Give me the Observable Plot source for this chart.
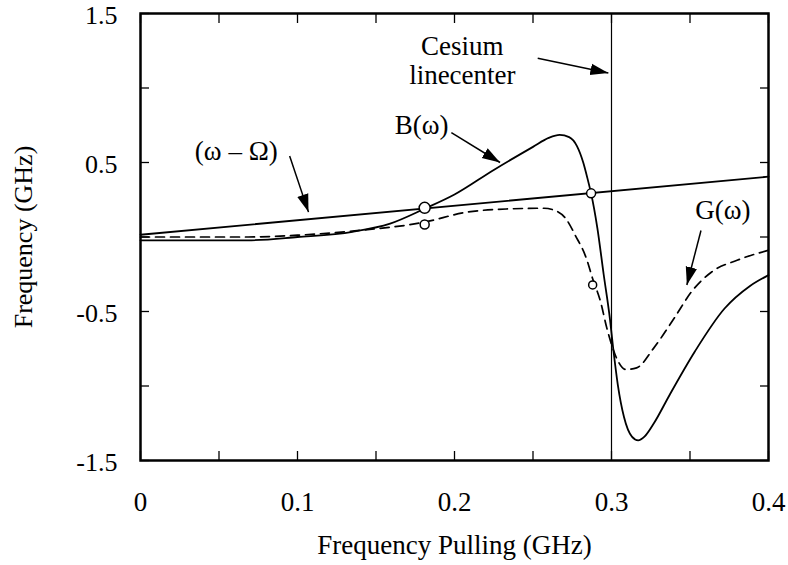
<!DOCTYPE html>
<html>
<head>
<meta charset="utf-8">
<script src="https://cdn.jsdelivr.net/npm/d3@7"></script>
<script src="https://cdn.jsdelivr.net/npm/@observablehq/plot@0.6"></script>
<style>
  html, body { margin: 0; padding: 0; background: #fff; }
</style>
</head>
<body>
<div id="chart"></div>
<script>
// ---- data ----
const lineX = [0, 0.4];
const lineY = [0.015, 0.405];               // (ω − Ω)

const bX = [0, 0.068, 0.1, 0.135, 0.159, 0.181, 0.2, 0.225, 0.25, 0.26, 0.267, 0.273, 0.278, 0.282, 0.285, 0.287, 0.291, 0.295, 0.299, 0.301, 0.304, 0.308, 0.313, 0.317, 0.321, 0.327, 0.337, 0.353, 0.372, 0.388, 0.4];
const bY = [-0.022, -0.022, 0.0, 0.035, 0.09, 0.19, 0.285, 0.45, 0.605, 0.665, 0.685, 0.67, 0.61, 0.5, 0.38, 0.293, 0.06, -0.25, -0.55, -0.74, -0.99, -1.21, -1.34, -1.365, -1.34, -1.25, -1.06, -0.77, -0.48, -0.33, -0.256];

const gX = [0, 0.068, 0.1, 0.135, 0.181, 0.207, 0.233, 0.257, 0.264, 0.271, 0.277, 0.284, 0.288, 0.293, 0.297, 0.3, 0.304, 0.309, 0.316, 0.327, 0.34, 0.351, 0.364, 0.38, 0.4];
const gY = [0.0, 0.0, 0.012, 0.04, 0.1, 0.165, 0.188, 0.193, 0.178, 0.122, 0.01, -0.144, -0.28, -0.433, -0.61, -0.72, -0.83, -0.889, -0.878, -0.744, -0.544, -0.367, -0.233, -0.156, -0.089];

const linecenter = 0.3;

const circleX = [0.181, 0.287, 0.181, 0.288];
const circleY = [0.196, 0.293, 0.084, -0.322];
const circleR = [5.5, 4.5, 4.5, 4];

const labelX = [0.205, 0.205, 0.179, 0.061, 0.371];
const labelY = [1.28, 1.086, 0.752, 0.578, 0.178];
const labelText = ["Cesium", "linecenter", "B(ω)", "(ω – Ω)", "G(ω)"];

const arrowX1 = [0.253, 0.198, 0.095, 0.357];
const arrowY1 = [1.20, 0.70, 0.544, 0.044];
const arrowX2 = [0.298, 0.229, 0.107, 0.348];
const arrowY2 = [1.10, 0.50, 0.167, -0.322];

const xTickMarks = [0, 0.05, 0.1, 0.15, 0.2, 0.25, 0.3, 0.35, 0.4];
const xTickLabels = [0, 0.1, 0.2, 0.3, 0.4];
const yTickMarks = [-1.5, -1, -0.5, 0, 0.5, 1, 1.5];
const yTickLabels = [-1.5, -0.5, 0.5, 1.5];

// ---- build tables ----
const omega = lineX.map((x, i) => ({x, y: lineY[i]}));
const B = bX.map((x, i) => ({x, y: bY[i]}));
const G = gX.map((x, i) => ({x, y: gY[i]}));
const circles = circleX.map((x, i) => ({x, y: circleY[i], r: circleR[i]}));
const labels = labelX.map((x, i) => ({x, y: labelY[i], text: labelText[i]}));
const arrows = arrowX1.map((x1, i) => ({x1, y1: arrowY1[i], x2: arrowX2[i], y2: arrowY2[i]}));

const arrowHead = (color) => {
  const m = d3.create("svg:marker")
    .attr("viewBox", "-10 -5 10 10")
    .attr("markerWidth", 12)
    .attr("markerHeight", 12)
    .attr("refX", 0)
    .attr("refY", 0)
    .attr("orient", "auto")
    .attr("fill", color)
    .attr("stroke", "none");
  m.append("path").attr("d", "M-10,-3.2L0,0L-10,3.2Z");
  return m.node();
};

const fmt = d => String(d);
const font = "'Liberation Serif', 'DejaVu Serif', serif";

const chart = Plot.plot({
  width: 788,
  height: 565,
  marginLeft: 140,
  marginRight: 20,
  marginTop: 13,
  marginBottom: 105,
  style: {fontFamily: font, fontSize: "27px", color: "#000", background: "#fff"},
  x: {domain: [0, 0.4]},
  y: {domain: [-1.5, 1.5]},
  marks: [
    // labels
    Plot.axisX({ticks: xTickLabels, tickSize: 0, tickPadding: 31, tickFormat: fmt,
      label: "Frequency Pulling (GHz)", labelAnchor: "center", labelArrow: "none", labelOffset: 93}),
    Plot.axisY({ticks: yTickLabels, tickSize: 0, tickPadding: 23, tickFormat: fmt, fontSize: 26, dy: 2,
      label: "Frequency (GHz)", labelAnchor: "center", labelArrow: "none", labelOffset: 127}),
    // inward ticks on all four sides
    Plot.axisX({anchor: "bottom", ticks: xTickMarks, tickSize: -9, tickFormat: () => "", label: null, strokeWidth: 1.3}),
    Plot.axisX({anchor: "top", ticks: xTickMarks, tickSize: -9, tickFormat: () => "", label: null, strokeWidth: 1.3}),
    Plot.axisY({anchor: "left", ticks: yTickMarks, tickSize: -9, tickFormat: () => "", label: null, strokeWidth: 1.3}),
    Plot.axisY({anchor: "right", ticks: yTickMarks, tickSize: -9, tickFormat: () => "", label: null, strokeWidth: 1.3}),
    // linecenter
    Plot.ruleX([linecenter], {stroke: "#000", strokeWidth: 1.2}),
    // curves
    Plot.line(omega, {x: "x", y: "y", stroke: "#000", strokeWidth: 1.8}),
    Plot.line(G, {x: "x", y: "y", stroke: "#000", strokeWidth: 1.7, strokeDasharray: "9,6", curve: "monotone-x"}),
    Plot.line(B, {x: "x", y: "y", stroke: "#000", strokeWidth: 1.8, curve: "monotone-x"}),
    // circles
    Plot.dot(circles, {x: "x", y: "y", r: "r", fill: "#fff", stroke: "#000", strokeWidth: 1.5}),
    // annotations
    Plot.link(arrows, {x1: "x1", y1: "y1", x2: "x2", y2: "y2", stroke: "#000", strokeWidth: 1.5, markerEnd: arrowHead}),
    Plot.text(labels, {x: "x", y: "y", text: "text", fill: "#000", fontSize: 27}),
    Plot.frame({stroke: "#000", strokeWidth: 2.5})
  ],
  r: {type: "identity"}
});

document.getElementById("chart").appendChild(chart);
</script>
</body>
</html>
